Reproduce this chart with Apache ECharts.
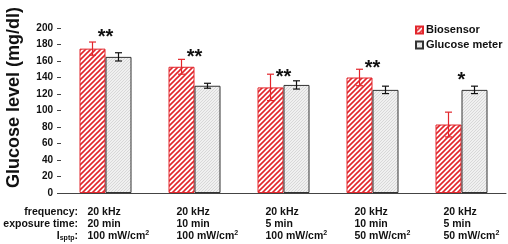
<!DOCTYPE html>
<html>
<head>
<meta charset="utf-8">
<script src="https://cdn.jsdelivr.net/npm/echarts@6/dist/echarts.min.js"></script>
<style>
  html, body { margin: 0; padding: 0; background: #fff; }
  #chart { width: 508px; height: 244px; }
</style>
</head>
<body>
<div id="chart"></div>
<script>
// 数据
var FREQUENCY = ["20 kHz", "20 kHz", "20 kHz", "20 kHz", "20 kHz"];
var EXPOSURE = ["20 min", "10 min", "5 min", "10 min", "5 min"];
var ISPTP = ["100", "100", "100", "50", "50"];
var ROW_HEADERS = ["frequency:", "exposure time:", "I{sub|sptp}:"];

var BIOSENSOR = [175, 153, 128, 140, 83];
var BIOSENSOR_ERR = [8, 9, 16, 10, 15];
var METER = [165, 130, 131, 125, 125];
var METER_ERR = [5, 3, 5, 4.5, 4.5];

var SIG_TEXT = ["**", "**", "**", "**", "*"];
var SIG_Y = [194, 170, 146, 157, 142];

var Y_TICKS = [0, 20, 40, 60, 80, 100, 120, 140, 160, 180, 200];

var CATEGORIES = FREQUENCY.map(function (f, i) {
  return f + "\n" + EXPOSURE[i] + "\n" + ISPTP[i] + " mW/cm{sup|2}";
});

var FONT = "'Liberation Sans', Arial, sans-serif";
var RED = "#e2262c";
var BAR_W = 26;

// 斜线填充
function hatch(bg, fg, step, lw) {
  var c = document.createElement("canvas");
  c.width = step;
  c.height = step;
  var ctx = c.getContext("2d");
  ctx.fillStyle = bg;
  ctx.fillRect(0, 0, step, step);
  ctx.strokeStyle = fg;
  ctx.lineWidth = lw;
  ctx.beginPath();
  ctx.moveTo(-1, step + 1);
  ctx.lineTo(step + 1, -1);
  ctx.moveTo(-1, 1);
  ctx.lineTo(1, -1);
  ctx.moveTo(step - 1, step + 1);
  ctx.lineTo(step + 1, step - 1);
  ctx.stroke();
  return c;
}

var redPattern = { image: hatch("#ffffff", RED, 5, 1.6), repeat: "repeat" };
var grayPattern = { image: hatch("#f0f0f0", "#d8d8d8", 3, 1), repeat: "repeat" };

function errorData(vals, errs) {
  return vals.map(function (v, i) {
    return [i, v, errs[i]];
  });
}

function errorRender(offset, color) {
  return function (params, api) {
    var i = api.value(0);
    var v = api.value(1);
    var e = api.value(2);
    var x = api.coord([i, v])[0] + offset;
    var top = api.coord([i, v + e])[1];
    var bot = api.coord([i, v - e])[1];
    var s = { stroke: color, lineWidth: 1.2 };
    return {
      type: "group",
      children: [
        { type: "line", shape: { x1: x, y1: top, x2: x, y2: bot }, style: s },
        { type: "line", shape: { x1: x - 3.5, y1: top, x2: x + 3.5, y2: top }, style: s },
        { type: "line", shape: { x1: x - 3.5, y1: bot, x2: x + 3.5, y2: bot }, style: s }
      ]
    };
  };
}

var myChart = echarts.init(document.getElementById("chart"));
var option = {
  animation: false,
  textStyle: { fontFamily: FONT },
  grid: [
    { left: 61, right: 2, top: 28, bottom: 51, outerBoundsMode: "none", containLabel: false },
    { left: 43, right: 20, top: 28, bottom: 51, outerBoundsMode: "none", containLabel: false }
  ],
  legend: {
    data: ["Biosensor", "Glucose meter"],
    orient: "vertical",
    left: 410,
    top: 19,
    itemWidth: 7,
    itemHeight: 7,
    itemGap: 3,
    icon: "rect",
    textStyle: { fontSize: 11, fontWeight: "bold", color: "#111", fontFamily: FONT, padding: [0, 0, 0, -2], lineHeight: 12 }
  },
  xAxis: [
    {
      type: "category",
      gridIndex: 0,
      data: CATEGORIES,
      axisLine: { lineStyle: { color: "#444", width: 1 } },
      axisTick: { show: false },
      axisLabel: { show: false }
    },
    {
      type: "category",
      gridIndex: 1,
      data: CATEGORIES,
      axisLine: { show: false },
      axisTick: { show: false },
      axisLabel: {
        interval: 0,
        align: "left",
        margin: 13,
        fontSize: 10.5,
        fontWeight: "bold",
        lineHeight: 12,
        color: "#111",
        fontFamily: FONT,
        rich: {
          sup: { fontSize: 7, fontWeight: "bold", lineHeight: 8, verticalAlign: "top", color: "#111", fontFamily: FONT }
        }
      }
    }
  ],
  yAxis: [
    {
      type: "value",
      gridIndex: 0,
      min: 0,
      max: 200,
      interval: 20,
      name: "Glucose level (mg/dl)",
      nameLocation: "middle",
      nameGap: 38,
      nameTextStyle: { fontSize: 18, fontWeight: "bold", color: "#111", fontFamily: FONT, padding: [0, 0, 0, 26] },
      axisLine: { show: false },
      axisTick: { show: true, length: 4, lineStyle: { color: "#444" } },
      splitLine: { show: false },
      axisLabel: {
        margin: 8,
        fontSize: 10,
        fontWeight: "bold",
        color: "#111",
        customValues: Y_TICKS
      }
    },
    { type: "value", gridIndex: 1, show: false, min: 0, max: 200 }
  ],
  graphic: [
    {
      type: "text",
      x: 78,
      y: 206,
      style: {
        text: ROW_HEADERS.join("\n"),
        align: "right",
        verticalAlign: "top",
        font: "bold 10.5px " + FONT,
        lineHeight: 12,
        fill: "#111",
        rich: {
          sub: { fontSize: 7, fontWeight: "bold", lineHeight: 8, verticalAlign: "bottom", fill: "#111", fontFamily: FONT }
        }
      }
    }
  ],
  series: [
    {
      name: "Biosensor",
      type: "bar",
      data: BIOSENSOR,
      barWidth: BAR_W,
      barGap: "0%",
      itemStyle: { color: redPattern, borderColor: RED, borderWidth: 1 }
    },
    {
      name: "Glucose meter",
      type: "bar",
      data: METER,
      barWidth: BAR_W,
      barGap: "0%",
      itemStyle: { color: grayPattern, borderColor: "#333", borderWidth: 1 }
    },
    {
      name: "bio-err",
      type: "custom",
      data: errorData(BIOSENSOR, BIOSENSOR_ERR),
      encode: { x: 0, y: 1 },
      renderItem: errorRender(-BAR_W / 2, RED),
      z: 5
    },
    {
      name: "meter-err",
      type: "custom",
      data: errorData(METER, METER_ERR),
      encode: { x: 0, y: 1 },
      renderItem: errorRender(BAR_W / 2, "#111"),
      z: 5
    },
    {
      name: "sig",
      type: "custom",
      data: SIG_Y.map(function (y, i) { return [i, y, SIG_TEXT[i]]; }),
      encode: { x: 0, y: 1 },
      renderItem: function (params, api) {
        var p = api.coord([api.value(0), api.value(1)]);
        return {
          type: "text",
          x: p[0],
          y: p[1] + 5,
          style: {
            text: SIG_TEXT[params.dataIndex],
            font: "bold 20px " + FONT,
            align: "center",
            verticalAlign: "middle",
            fill: "#111"
          }
        };
      },
      z: 5
    }
  ]
};
myChart.setOption(option);
</script>
</body>
</html>
